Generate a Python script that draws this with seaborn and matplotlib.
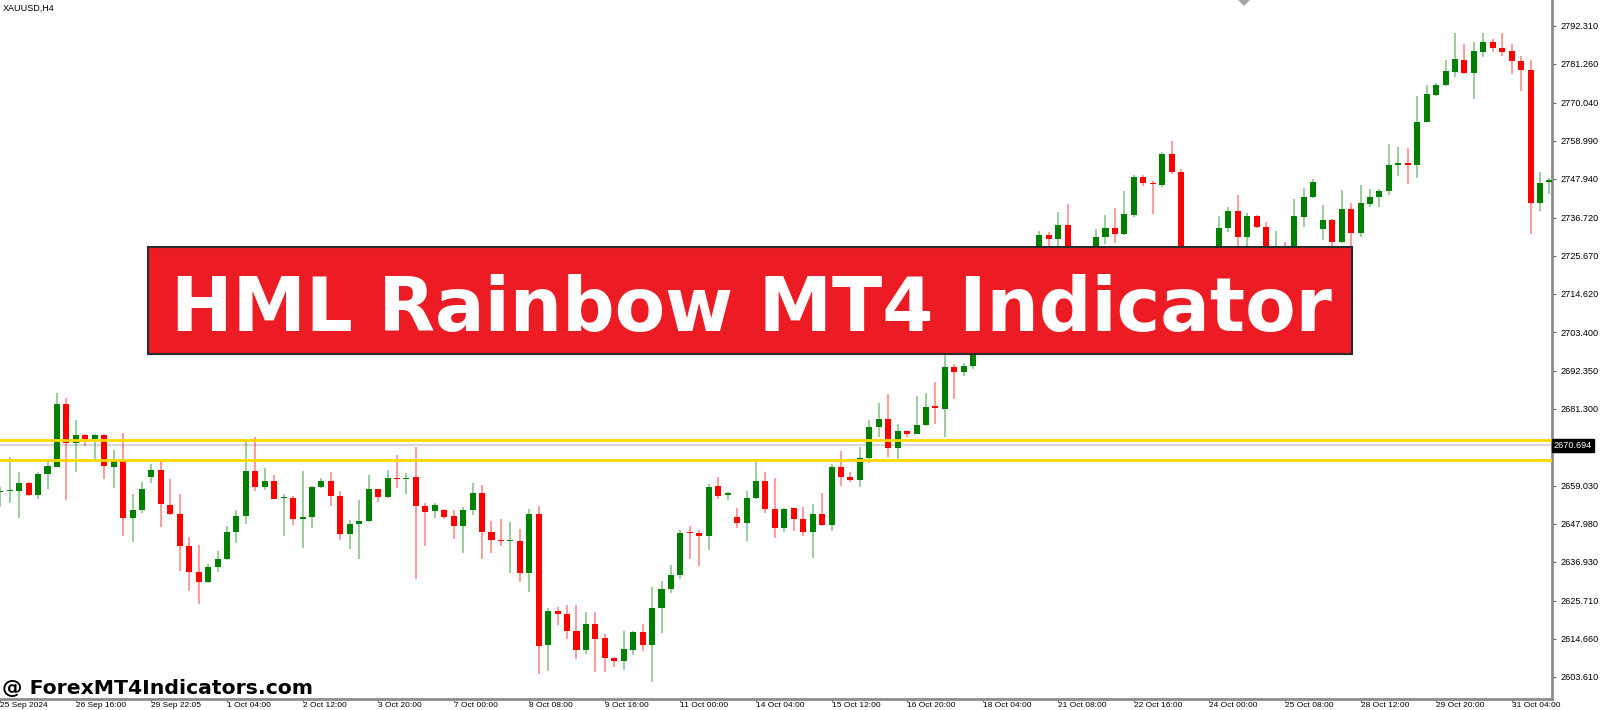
import numpy as np
import pandas as pd
import matplotlib
matplotlib.use("Agg")
import matplotlib.pyplot as plt
import seaborn as sns
from matplotlib.patches import Rectangle, Polygon

# XAUUSD H4 candles (25 Sep - 31 Oct 2024)
opens = [2657.1, 2657.4, 2657.5, 2659.7, 2656.4, 2662.5, 2664.5, 2682.7, 2671.5, 2673.6,
         2672.6, 2673.6, 2664.5, 2666.1, 2649.7, 2651.9, 2661.6, 2663.5, 2653.4, 2650.9,
         2641.5, 2633.9, 2631.0, 2635.5, 2637.8, 2645.6, 2650.2, 2663.2, 2658.6, 2660.3,
         2655.3, 2655.4, 2649.4, 2649.8, 2658.6, 2660.3, 2655.9, 2645.1, 2648.0, 2648.7,
         2657.9, 2655.6, 2661.1, 2660.9, 2661.4, 2653.1, 2651.6, 2651.8, 2650.1, 2647.2,
         2651.9, 2657.0, 2645.6, 2643.3, 2642.9, 2642.9, 2633.8, 2650.8, 2612.9, 2622.8,
         2621.8, 2616.8, 2611.5, 2618.9, 2614.7, 2608.9, 2608.3, 2611.5, 2616.6, 2612.9,
         2623.4, 2629.0, 2633.1, 2645.6, 2645.2, 2644.5, 2658.8, 2656.2, 2650.0, 2648.1,
         2655.5, 2660.3, 2652.1, 2646.8, 2652.4, 2649.3, 2645.7, 2650.7, 2647.6, 2664.5,
         2661.6, 2660.5, 2667.1, 2676.1, 2678.3, 2669.8, 2674.7, 2674.1, 2676.6, 2682.0,
         2681.2, 2693.3, 2691.9, 2693.7, 2700.0, 2706.0, 2710.0, 2713.0, 2720.0, 2721.5,
         2723.5, 2731.7, 2730.5, 2734.6, 2722.0, 2719.0, 2723.5, 2731.0, 2733.8, 2731.9,
         2737.4, 2748.5, 2746.8, 2746.2, 2755.1, 2750.0, 2716.0, 2713.0, 2718.0, 2721.0,
         2733.6, 2738.6, 2731.1, 2737.2, 2734.0, 2724.0, 2726.0, 2722.0, 2737.0, 2742.6,
         2733.4, 2736.0, 2729.7, 2739.1, 2732.3, 2740.6, 2742.6, 2744.5, 2751.8, 2752.5,
         2751.8, 2764.3, 2772.2, 2775.0, 2779.0, 2782.4, 2778.7, 2784.8, 2787.5, 2785.8,
         2785.0, 2782.2, 2779.6, 2740.8, 2747.1]
highs = [2658.7, 2667.2, 2663.1, 2660.2, 2663.1, 2666.8, 2685.8, 2684.3, 2678.0, 2674.0,
         2674.0, 2674.0, 2669.3, 2674.4, 2656.5, 2660.0, 2665.2, 2666.2, 2660.8, 2656.6,
         2644.0, 2641.9, 2636.3, 2640.1, 2647.4, 2651.9, 2671.8, 2673.2, 2664.0, 2662.1,
         2656.6, 2656.0, 2663.3, 2659.0, 2661.3, 2663.1, 2657.5, 2649.0, 2654.8, 2662.1,
         2658.1, 2663.5, 2668.0, 2662.7, 2670.1, 2653.9, 2654.0, 2652.1, 2651.9, 2652.7,
         2659.7, 2659.2, 2648.8, 2649.3, 2648.4, 2646.4, 2652.1, 2653.1, 2623.4, 2623.7,
         2624.4, 2624.4, 2622.4, 2622.4, 2616.0, 2609.2, 2616.9, 2617.0, 2618.8, 2629.7,
         2631.4, 2636.0, 2646.1, 2647.3, 2646.1, 2659.4, 2661.4, 2657.3, 2652.4, 2657.5,
         2666.8, 2663.1, 2661.1, 2652.5, 2652.6, 2652.7, 2653.8, 2656.8, 2665.2, 2668.9,
         2663.1, 2670.1, 2678.0, 2682.9, 2685.5, 2676.9, 2674.9, 2685.0, 2685.8, 2689.0,
         2697.5, 2694.3, 2694.5, 2703.0, 2708.0, 2712.0, 2716.0, 2722.0, 2723.0, 2725.0,
         2732.8, 2732.4, 2738.2, 2740.6, 2726.5, 2725.0, 2733.3, 2737.4, 2739.4, 2744.4,
         2749.0, 2749.0, 2747.3, 2755.8, 2758.9, 2750.7, 2722.0, 2720.0, 2725.0, 2737.2,
         2739.7, 2743.3, 2737.9, 2737.4, 2735.4, 2732.8, 2729.5, 2742.1, 2745.2, 2747.8,
         2740.3, 2736.2, 2744.7, 2741.0, 2746.1, 2745.0, 2744.9, 2757.9, 2757.1, 2757.0,
         2771.9, 2775.0, 2775.6, 2782.4, 2790.1, 2786.9, 2787.7, 2790.3, 2788.4, 2790.3,
         2786.9, 2783.5, 2782.4, 2750.0, 2748.1]
lows = [2652.7, 2654.1, 2649.5, 2656.0, 2655.1, 2657.9, 2664.5, 2654.7, 2662.9, 2670.6,
        2666.1, 2660.8, 2658.2, 2644.5, 2642.8, 2651.0, 2659.7, 2647.1, 2650.5, 2634.2,
        2628.6, 2624.6, 2630.7, 2633.9, 2637.5, 2642.3, 2647.8, 2657.4, 2657.7, 2655.0,
        2644.3, 2647.7, 2640.9, 2646.8, 2658.2, 2653.1, 2643.3, 2640.7, 2637.8, 2648.5,
        2654.3, 2655.3, 2658.4, 2656.6, 2631.9, 2641.5, 2649.6, 2649.4, 2643.6, 2639.4,
        2650.5, 2637.6, 2639.6, 2641.6, 2633.6, 2631.0, 2628.3, 2604.4, 2605.4, 2618.6,
        2614.6, 2608.8, 2610.2, 2605.1, 2605.1, 2606.5, 2605.7, 2609.9, 2611.2, 2602.0,
        2616.2, 2627.8, 2631.8, 2637.8, 2635.8, 2640.4, 2655.1, 2654.7, 2646.8, 2643.1,
        2655.1, 2651.0, 2643.9, 2645.5, 2645.9, 2644.4, 2637.9, 2647.3, 2646.0, 2658.9,
        2660.1, 2658.5, 2665.7, 2673.0, 2667.4, 2666.6, 2673.0, 2673.9, 2676.4, 2676.8,
        2673.2, 2684.0, 2690.9, 2692.7, 2698.5, 2703.0, 2707.0, 2711.0, 2716.0, 2720.0,
        2722.0, 2726.5, 2726.5, 2718.5, 2715.0, 2716.0, 2721.0, 2729.0, 2729.4, 2731.7,
        2737.0, 2745.9, 2737.7, 2745.5, 2749.3, 2708.0, 2710.0, 2711.0, 2715.0, 2719.0,
        2732.6, 2727.0, 2727.0, 2733.6, 2720.0, 2721.0, 2718.0, 2720.0, 2734.1, 2742.3,
        2730.2, 2726.0, 2729.2, 2726.0, 2731.2, 2739.9, 2739.9, 2743.3, 2748.9, 2746.3,
        2748.3, 2764.3, 2771.9, 2774.8, 2777.5, 2778.3, 2771.0, 2783.2, 2784.8, 2783.6,
        2778.2, 2773.4, 2731.9, 2738.5, 2743.5]
closes = [2657.5, 2657.6, 2659.7, 2656.2, 2662.5, 2664.6, 2682.7, 2671.3, 2673.6, 2672.6,
          2673.7, 2664.8, 2666.1, 2649.7, 2651.8, 2658.0, 2663.5, 2653.6, 2650.8, 2641.5,
          2633.9, 2631.0, 2635.4, 2637.8, 2645.5, 2650.2, 2663.2, 2658.6, 2660.3, 2655.2,
          2655.4, 2649.4, 2649.9, 2658.6, 2660.3, 2656.0, 2645.1, 2648.0, 2648.7, 2657.9,
          2655.6, 2661.1, 2660.9, 2661.3, 2653.1, 2651.5, 2653.5, 2650.0, 2647.2, 2651.9,
          2657.0, 2645.6, 2643.2, 2642.9, 2643.0, 2633.8, 2650.7, 2612.6, 2622.8, 2621.8,
          2617.0, 2611.5, 2618.9, 2614.6, 2608.9, 2608.3, 2611.7, 2616.6, 2612.9, 2623.4,
          2629.0, 2633.1, 2645.4, 2645.2, 2644.5, 2658.7, 2656.0, 2656.8, 2648.1, 2655.5,
          2660.3, 2652.1, 2646.6, 2652.2, 2649.3, 2645.7, 2650.7, 2647.6, 2664.5, 2661.6,
          2660.5, 2667.1, 2676.1, 2678.3, 2669.8, 2674.7, 2674.1, 2676.6, 2681.9, 2681.4,
          2693.3, 2691.9, 2693.7, 2700.0, 2706.0, 2710.0, 2713.0, 2720.0, 2721.0, 2723.5,
          2731.7, 2730.5, 2734.6, 2722.0, 2719.0, 2723.5, 2731.2, 2733.8, 2732.0, 2737.6,
          2748.5, 2746.8, 2746.3, 2755.0, 2750.0, 2716.0, 2713.0, 2718.0, 2721.0, 2733.6,
          2738.7, 2731.1, 2737.2, 2733.9, 2724.0, 2726.0, 2722.0, 2737.2, 2742.7, 2747.1,
          2736.0, 2729.7, 2739.1, 2732.3, 2740.8, 2742.6, 2744.5, 2751.8, 2752.5, 2751.8,
          2764.4, 2772.5, 2775.1, 2779.1, 2782.6, 2778.7, 2785.0, 2787.5, 2785.8, 2784.8,
          2782.1, 2779.5, 2740.8, 2746.7, 2747.6]

# time axis labels, one every 8 bars
x_labels = ["25 Sep 2024", "26 Sep 16:00", "29 Sep 22:05", "1 Oct 04:00", "2 Oct 12:00",
            "3 Oct 20:00", "7 Oct 00:00", "8 Oct 08:00", "9 Oct 16:00", "11 Oct 00:00",
            "14 Oct 04:00", "15 Oct 12:00", "16 Oct 20:00", "18 Oct 04:00", "21 Oct 08:00",
            "22 Oct 16:00", "24 Oct 00:00", "25 Oct 08:00", "28 Oct 12:00", "29 Oct 20:00",
            "31 Oct 04:00"]
price_ticks = [2792.310, 2781.260, 2770.040, 2758.990, 2747.940, 2736.720, 2725.670,
               2714.620, 2703.400, 2692.350, 2681.300, 2659.030, 2647.980, 2636.930,
               2625.710, 2614.660, 2603.610]

# HML levels
level_names = ["upper", "middle", "lower"]
level_prices = [2672.23, 2670.694, 2666.35]

sns.set_theme(style="white")
plt.rcParams['font.family'] = ['Liberation Sans', 'DejaVu Sans']

df = pd.DataFrame({'open': opens, 'high': highs, 'low': lows, 'close': closes})
df['bar'] = np.arange(len(df))
df['up'] = df['close'] >= df['open']

W, H = 1600, 710
fig = plt.figure(figsize=(W / 100, H / 100), dpi=100)
fig.patch.set_facecolor('white')
ax = fig.add_axes([0, 11 / H, 1552 / W, 699 / H])
ax.set_facecolor('white')

green = '#008000'
red = '#ff0000'
colors = np.where(df['up'], green, red)

# wicks
ax.vlines(df['bar'], df['low'], df['high'], colors=colors, linewidth=1.1, alpha=0.5, zorder=2)
# bodies
body = (df['close'] - df['open']).abs().clip(lower=0.35)
bottom = df[['open', 'close']].min(axis=1)
ax.bar(df['bar'], body, bottom=bottom, width=0.64, color=colors, linewidth=0, zorder=3)

# indicator lines
lv = pd.DataFrame({
    'bar': [-2, 170] * 3,
    'price': np.repeat(level_prices, 2),
    'level': np.repeat(level_names, 2),
})
sns.lineplot(data=lv[lv['level'] == 'middle'], x='bar', y='price', color='#d8d8d8',
             linewidth=1.5, ax=ax, zorder=1, legend=False)
sns.lineplot(data=lv[lv['level'] != 'middle'], x='bar', y='price', units='level',
             estimator=None, color='#ffd700', linewidth=2, ax=ax, zorder=4, legend=False)

ax.set_xlim(-0.03, 164.27)
ax.set_ylim(2597.16, 2799.77)
ax.set_xlabel('')
ax.set_ylabel('')

for s in ['top', 'left']:
    ax.spines[s].set_visible(False)
for s in ['right', 'bottom']:
    ax.spines[s].set_color('#8c8c8c')
    ax.spines[s].set_linewidth(2)

ax.yaxis.tick_right()
ax.set_yticks(price_ticks)
ax.set_yticklabels([f"{p:.3f}" for p in price_ticks])
ax.tick_params(axis='y', direction='out', length=3, width=0.8, color='#666666',
               labelsize=6.6, pad=3, labelcolor='black', right=True)
ax.set_xticks(np.arange(0, 8 * len(x_labels), 8))
ax.set_xticklabels(x_labels, ha='left')
ax.tick_params(axis='x', direction='out', length=2, width=0.8, color='#666666',
               labelsize=6, pad=0.5, labelcolor='black', bottom=True)
ax.grid(False)

# price tag of the middle line
ax.text(1.001, level_prices[1], f"{level_prices[1]:.3f}",
        transform=ax.get_yaxis_transform(), color='white', fontsize=6.6,
        va='center', ha='left', zorder=6,
        bbox=dict(boxstyle='square,pad=0.2', fc='black', ec='black'))

fig.text(3 / W, 1 - 8 / H, 'XAUUSD,H4', fontsize=6.5, va='center', ha='left', color='black')

# small shift marker at the top
tri = Polygon([[1238 / W, 1.0], [1250 / W, 1.0], [1244 / W, 1 - 6 / H]], closed=True,
              transform=fig.transFigure, fc='#a6a6a6', ec='none', zorder=9)
fig.add_artist(tri)

# banner
banner = Rectangle((148 / W, (H - 354) / H), 1204 / W, 107 / H, transform=fig.transFigure,
                   fc='#ed1c24', ec='#2b2b2b', lw=1.5, zorder=10)
fig.add_artist(banner)
title = fig.text(751 / W, (H - 331) / H, 'HML Rainbow MT4 Indicator', fontsize=55,
                 fontweight='bold', family='DejaVu Sans', color='white',
                 ha='center', va='baseline', zorder=11)

mark = fig.text(2 / W, (H - 694) / H, '@ ForexMT4Indicators.com', fontsize=15,
                fontweight='bold', family='DejaVu Sans', color='black',
                ha='left', va='baseline', zorder=11)

# fit text widths to the picture
fig.canvas.draw()
r = fig.canvas.get_renderer()
title.set_fontsize(55 * 1161 / title.get_window_extent(r).width)
mark.set_fontsize(15 * 311 / mark.get_window_extent(r).width)

fig.savefig('out.png', dpi=100, facecolor='white')
